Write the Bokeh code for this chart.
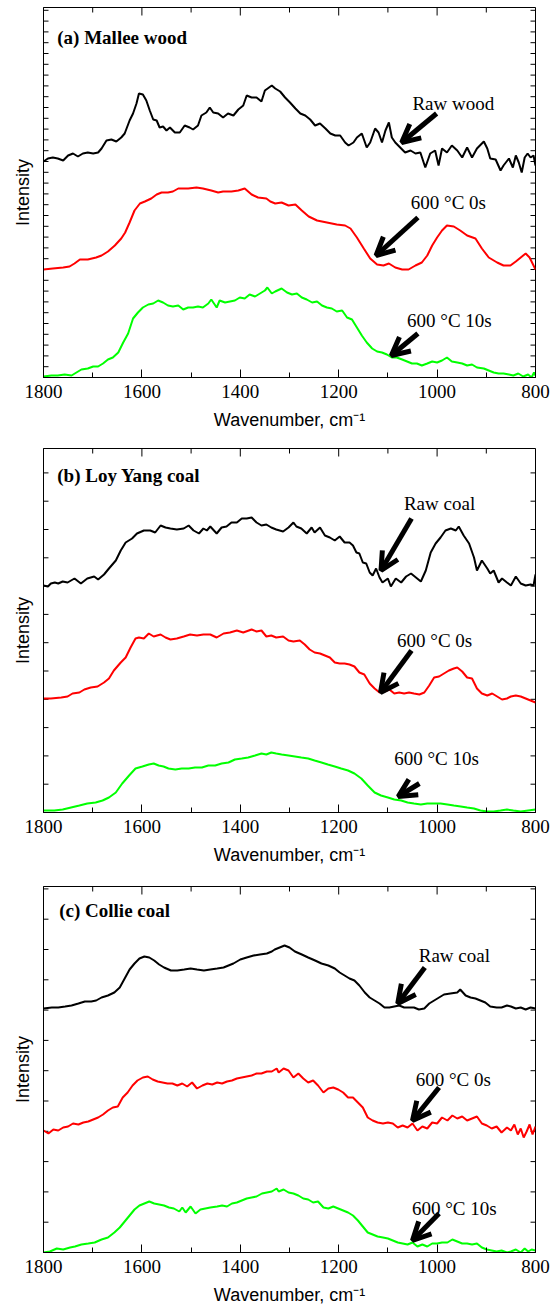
from bokeh.plotting import figure
from bokeh.models import Range1d, SingleIntervalTicker, FixedTicker, Label, Arrow, OpenHead
from bokeh.layouts import column
from bokeh.embed import file_html
from bokeh.resources import INLINE

# ---------------- Raman spectra (wavenumber in cm-1, intensity in a.u., offset for clarity) ----------------
# (a) Mallee wood
mallee_raw_wn = [1800, 1791, 1781, 1771, 1760, 1750, 1740, 1730, 1720, 1710,
                 1699, 1689, 1682, 1672, 1662, 1652, 1642, 1635, 1625, 1618,
                 1611, 1606, 1598, 1591, 1584, 1577, 1570, 1564, 1557, 1550,
                 1543, 1533, 1523, 1513, 1503, 1496, 1486, 1479, 1469, 1462,
                 1455, 1445, 1435, 1425, 1414, 1404, 1394, 1387, 1377, 1367,
                 1357, 1350, 1336, 1329, 1319, 1309, 1299, 1288, 1278, 1268,
                 1258, 1248, 1238, 1227, 1217, 1207, 1197, 1187, 1180, 1170,
                 1163, 1153, 1143, 1136, 1126, 1119, 1112, 1105, 1098, 1092,
                 1085, 1075, 1065, 1054, 1044, 1034, 1024, 1014, 1004, 997,
                 990, 980, 970, 959, 949, 939, 929, 919, 905, 898,
                 892, 881, 871, 865, 854, 846, 840, 834, 828, 822,
                 816, 810, 804, 800]
mallee_raw = [216, 219, 220, 219, 217, 222, 224, 221, 224, 225,
              224, 225, 229, 237, 238, 236, 240, 244, 257, 264,
              274, 284, 283, 277, 267, 258, 257, 250, 251, 247,
              250, 245, 245, 252, 250, 248, 252, 262, 265, 270,
              265, 264, 260, 264, 262, 268, 272, 282, 280, 280,
              276, 287, 292, 289, 286, 280, 275, 269, 264, 262,
              258, 252, 254, 249, 244, 242, 242, 235, 232, 235,
              240, 244, 230, 235, 249, 245, 235, 247, 255, 240,
              235, 230, 225, 227, 224, 225, 210, 224, 227, 212,
              229, 225, 232, 227, 220, 230, 220, 229, 236, 229,
              219, 218, 207, 212, 219, 210, 222, 215, 205, 220,
              224, 220, 222, 212]

mallee_0s_wn = [1800, 1781, 1760, 1747, 1737, 1726, 1710, 1693, 1682, 1669,
                1655, 1642, 1634, 1625, 1615, 1604, 1594, 1581, 1570, 1560,
                1547, 1537, 1526, 1506, 1489, 1476, 1459, 1445, 1435, 1418,
                1404, 1391, 1377, 1364, 1347, 1339, 1329, 1316, 1302, 1288,
                1275, 1261, 1244, 1224, 1204, 1187, 1176, 1163, 1149, 1136,
                1122, 1109, 1098, 1085, 1071, 1058, 1044, 1031, 1020, 1010,
                1000, 990, 980, 966, 953, 939, 922, 909, 895, 878,
                865, 851, 840, 830, 820, 812, 806, 800]
mallee_0s = [108, 109, 110, 111, 114, 118, 118, 120, 122, 126,
             132, 139, 145, 155, 167, 174, 176, 179, 183, 185,
             185, 186, 189, 189, 190, 189, 187, 185, 186, 186,
             187, 189, 183, 180, 179, 176, 174, 175, 172, 173,
             167, 161, 157, 155, 153, 152, 149, 140, 129, 119,
             113, 112, 114, 110, 108, 108, 112, 115, 122, 132,
             140, 147, 152, 151, 147, 142, 139, 129, 120, 115,
             112, 112, 116, 120, 124, 120, 114, 108]

mallee_10s_wn = [1800, 1784, 1771, 1757, 1743, 1733, 1723, 1710, 1699, 1689,
                 1679, 1669, 1659, 1648, 1638, 1628, 1618, 1608, 1598, 1587,
                 1577, 1567, 1557, 1547, 1537, 1526, 1516, 1506, 1496, 1486,
                 1476, 1465, 1459, 1448, 1442, 1431, 1421, 1411, 1401, 1391,
                 1381, 1370, 1360, 1350, 1345, 1336, 1329, 1316, 1305, 1295,
                 1285, 1275, 1265, 1254, 1244, 1234, 1224, 1214, 1204, 1193,
                 1183, 1173, 1163, 1153, 1143, 1132, 1122, 1112, 1102, 1092,
                 1082, 1071, 1061, 1051, 1041, 1031, 1020, 1010, 1000, 990,
                 980, 970, 959, 949, 939, 929, 919, 905, 895, 885,
                 875, 865, 854, 845, 835, 825, 815, 808, 803, 800]
mallee_10s = [1, 2, 2, 3, 2, 5, 8, 9, 11, 11,
              14, 18, 20, 25, 35, 44, 59, 65, 70, 73,
              74, 77, 75, 72, 71, 72, 68, 70, 70, 71,
              70, 74, 78, 70, 77, 75, 76, 77, 80, 79,
              83, 81, 84, 87, 90, 84, 86, 89, 85, 83,
              84, 80, 78, 75, 76, 72, 70, 69, 66, 67,
              60, 58, 50, 42, 35, 29, 26, 25, 23, 20,
              20, 18, 16, 14, 14, 12, 14, 16, 15, 17,
              20, 16, 15, 14, 12, 13, 10, 9, 7, 5,
              4, 4, 3, 2, 4, 1, 3, 0, 5, 2]

# (b) Loy Yang coal
loy_raw_wn = [1800, 1791, 1785, 1777, 1770, 1761, 1751, 1737, 1724, 1711,
              1697, 1689, 1677, 1667, 1653, 1643, 1633, 1620, 1610, 1596,
              1583, 1573, 1562, 1552, 1542, 1529, 1515, 1505, 1495, 1484,
              1475, 1468, 1461, 1448, 1438, 1428, 1418, 1407, 1397, 1387,
              1377, 1367, 1357, 1347, 1337, 1327, 1313, 1302, 1292, 1286,
              1276, 1265, 1255, 1249, 1238, 1228, 1218, 1208, 1198, 1188,
              1178, 1171, 1164, 1158, 1151, 1144, 1137, 1131, 1124, 1117,
              1111, 1100, 1094, 1084, 1073, 1063, 1053, 1043, 1033, 1023,
              1013, 1003, 993, 983, 972, 962, 956, 946, 935, 925,
              919, 909, 898, 892, 885, 875, 868, 858, 850, 840,
              830, 820, 810, 804, 800]
loy_raw = [227, 226, 229, 230, 229, 231, 230, 234, 229, 234,
           236, 233, 238, 244, 252, 262, 270, 274, 279, 282,
           282, 280, 287, 285, 284, 283, 284, 287, 282, 279,
           284, 282, 286, 279, 285, 286, 290, 290, 294, 294,
           295, 290, 287, 288, 285, 283, 281, 285, 290, 286,
           284, 279, 285, 280, 285, 277, 275, 272, 276, 270,
           270, 267, 260, 259, 250, 249, 240, 237, 244, 235,
           230, 234, 226, 234, 230, 236, 239, 235, 231, 242,
           260, 269, 275, 282, 284, 282, 286, 277, 269, 255,
           242, 252, 244, 239, 242, 230, 234, 230, 227, 236,
           229, 227, 228, 227, 238]

loy_0s_wn = [1800, 1785, 1764, 1751, 1741, 1727, 1717, 1704, 1690, 1677,
             1667, 1657, 1643, 1633, 1623, 1613, 1606, 1596, 1586, 1576,
             1562, 1552, 1542, 1529, 1515, 1502, 1488, 1475, 1461, 1448,
             1434, 1421, 1407, 1394, 1377, 1367, 1357, 1347, 1337, 1327,
             1313, 1302, 1292, 1279, 1269, 1259, 1249, 1238, 1228, 1218,
             1208, 1198, 1188, 1178, 1168, 1158, 1148, 1137, 1127, 1117,
             1107, 1097, 1087, 1077, 1067, 1057, 1047, 1036, 1026, 1016,
             1006, 996, 986, 976, 966, 959, 949, 939, 929, 919,
             909, 898, 888, 878, 868, 858, 850, 840, 830, 820,
             810, 800]
loy_0s = [114, 114, 115, 116, 119, 120, 123, 125, 126, 130,
          134, 142, 150, 155, 165, 174, 175, 174, 179, 176,
          178, 175, 173, 174, 176, 178, 177, 178, 178, 175,
          179, 180, 182, 180, 183, 181, 182, 176, 177, 175,
          176, 172, 171, 172, 168, 163, 160, 159, 157, 155,
          150, 149, 149, 148, 146, 140, 138, 129, 124, 120,
          121, 123, 119, 120, 119, 120, 119, 118, 120, 127,
          135, 136, 139, 142, 144, 145, 141, 135, 134, 124,
          119, 117, 119, 116, 113, 114, 116, 117, 116, 114,
          112, 110]

loy_10s_wn = [1800, 1778, 1761, 1744, 1727, 1711, 1694, 1680, 1667, 1653,
              1640, 1626, 1613, 1599, 1586, 1576, 1566, 1556, 1546, 1532,
              1519, 1505, 1492, 1478, 1465, 1451, 1438, 1424, 1411, 1397,
              1384, 1370, 1357, 1347, 1337, 1327, 1316, 1302, 1289, 1276,
              1262, 1249, 1235, 1222, 1208, 1195, 1181, 1168, 1154, 1141,
              1127, 1114, 1100, 1087, 1073, 1060, 1047, 1033, 1020, 1006,
              993, 979, 966, 952, 939, 925, 912, 898, 885, 871,
              858, 845, 830, 815, 800]
loy_10s = [2, 2, 3, 5, 7, 9, 10, 12, 15, 20,
           29, 37, 44, 46, 48, 49, 47, 46, 44, 43,
           44, 44, 45, 45, 47, 47, 49, 50, 53, 54,
           55, 57, 59, 58, 60, 59, 58, 57, 56, 55,
           54, 52, 50, 48, 46, 44, 42, 39, 34, 27,
           20, 17, 15, 13, 12, 10, 9, 8, 9, 9,
           9, 8, 7, 6, 5, 4, 2, 1, 1, 2,
           3, 2, 1, 2, 3]

# (c) Collie coal
collie_raw_wn = [1800, 1783, 1770, 1756, 1743, 1729, 1716, 1703, 1693, 1682,
                 1669, 1656, 1645, 1635, 1625, 1615, 1605, 1595, 1585, 1575,
                 1565, 1555, 1541, 1528, 1514, 1501, 1488, 1474, 1461, 1447,
                 1434, 1424, 1414, 1400, 1387, 1373, 1360, 1346, 1336, 1330,
                 1320, 1310, 1300, 1289, 1275, 1262, 1248, 1235, 1221, 1208,
                 1198, 1188, 1178, 1168, 1158, 1147, 1137, 1127, 1117, 1107,
                 1097, 1087, 1077, 1067, 1057, 1047, 1037, 1026, 1016, 1006,
                 996, 986, 973, 959, 953, 942, 932, 922, 912, 902,
                 892, 879, 869, 858, 850, 840, 830, 820, 810, 800]
collie_raw = [244, 245, 245, 246, 247, 249, 251, 251, 252, 255,
              257, 260, 265, 274, 283, 289, 294, 296, 295, 292,
              288, 285, 282, 282, 283, 284, 283, 282, 283, 284,
              285, 287, 289, 293, 295, 297, 298, 299, 301, 303,
              305, 307, 305, 301, 298, 295, 292, 289, 287, 284,
              280, 277, 274, 272, 267, 260, 255, 252, 249, 245,
              245, 246, 247, 245, 245, 245, 243, 244, 249, 252,
              255, 258, 259, 260, 263, 257, 255, 254, 252, 250,
              246, 245, 245, 247, 246, 244, 245, 243, 245, 244]

collie_0s_wn = [1800, 1790, 1780, 1770, 1760, 1750, 1740, 1729, 1719, 1709,
                1699, 1689, 1679, 1669, 1659, 1649, 1639, 1629, 1619, 1609,
                1598, 1588, 1578, 1568, 1558, 1548, 1538, 1528, 1518, 1508,
                1498, 1488, 1477, 1467, 1457, 1447, 1437, 1427, 1417, 1407,
                1397, 1387, 1377, 1367, 1357, 1346, 1336, 1326, 1322, 1312,
                1302, 1292, 1282, 1272, 1262, 1252, 1242, 1231, 1221, 1211,
                1201, 1191, 1181, 1171, 1161, 1151, 1141, 1131, 1121, 1110,
                1100, 1090, 1080, 1070, 1060, 1050, 1040, 1030, 1020, 1010,
                1000, 990, 979, 969, 959, 949, 939, 929, 919, 909,
                899, 889, 879, 869, 858, 850, 843, 836, 830, 824,
                818, 812, 806, 800]
collie_0s = [122, 119, 123, 122, 125, 126, 129, 128, 130, 131,
             133, 135, 138, 142, 145, 146, 155, 160, 167, 172,
             175, 176, 173, 171, 170, 169, 169, 167, 169, 166,
             170, 164, 167, 169, 168, 170, 169, 171, 172, 174,
             175, 176, 177, 179, 179, 181, 181, 184, 180, 184,
             182, 175, 179, 174, 170, 172, 167, 160, 164, 165,
             163, 160, 155, 155, 150, 145, 135, 132, 130, 129,
             130, 129, 125, 127, 125, 129, 122, 126, 124, 130,
             129, 135, 132, 137, 134, 136, 132, 134, 136, 129,
             127, 124, 126, 120, 125, 122, 128, 118, 124, 115,
             121, 128, 118, 126]

collie_10s_wn = [1800, 1787, 1773, 1760, 1746, 1736, 1723, 1709, 1696, 1682,
                 1669, 1656, 1645, 1635, 1625, 1615, 1605, 1595, 1585, 1575,
                 1565, 1555, 1545, 1535, 1524, 1518, 1511, 1501, 1491, 1481,
                 1471, 1461, 1447, 1437, 1427, 1417, 1407, 1397, 1387, 1377,
                 1367, 1356, 1346, 1336, 1326, 1322, 1312, 1302, 1292, 1282,
                 1272, 1262, 1252, 1242, 1231, 1221, 1211, 1201, 1191, 1181,
                 1171, 1161, 1151, 1141, 1131, 1121, 1110, 1100, 1090, 1080,
                 1070, 1060, 1050, 1040, 1030, 1020, 1010, 1000, 990, 979,
                 969, 959, 949, 939, 929, 919, 909, 899, 889, 879,
                 869, 858, 850, 840, 830, 822, 815, 808, 800]
collie_10s = [0, 1, 4, 3, 5, 6, 8, 9, 10, 13,
              15, 20, 25, 31, 37, 43, 47, 49, 51, 49,
              48, 47, 45, 44, 41, 45, 40, 46, 39, 43,
              44, 45, 46, 47, 46, 49, 50, 52, 54, 55,
              56, 59, 60, 61, 64, 61, 63, 60, 59, 57,
              54, 53, 50, 51, 45, 44, 46, 44, 42, 40,
              37, 32, 26, 20, 18, 16, 15, 14, 12, 10,
              9, 8, 10, 6, 8, 6, 9, 9, 10, 10,
              13, 11, 9, 9, 8, 9, 5, 3, 2, 1,
              2, 0, 1, 3, 0, 4, 1, 3, 2]

# x-axis ticks (cm-1)
X_MAJOR = [1800, 1600, 1400, 1200, 1000, 800]
X_MINOR = [1700, 1500, 1300, 1100, 900]

COLORS = ["#000000", "#ff0000", "#00ff00"]
SERIF = "Liberation Serif"
SANS = "Liberation Sans"
WIDTH = 555
LEFT = 43
X_LO, X_HI = 1800, 800


def panel(title, title_pos, y_max, y_step, height, top, bottom, right,
          series, notes, arrows):
    p = figure(width=WIDTH, height=height, title=None,
               x_range=Range1d(X_LO, X_HI), y_range=Range1d(0, y_max),
               output_backend="svg", toolbar_location=None,
               min_border_left=LEFT, min_border_right=right,
               min_border_top=top, min_border_bottom=bottom)
    p.background_fill_color = "white"
    p.border_fill_color = "white"
    p.outline_line_color = "black"
    p.outline_line_width = 1
    p.xgrid.visible = False
    p.ygrid.visible = False

    # bottom axis: labelled, ticks pointing inward
    xa = p.xaxis[0]
    xa.ticker = SingleIntervalTicker(interval=200, num_minor_ticks=2)
    xa.major_tick_in = 8
    xa.major_tick_out = 0
    xa.minor_tick_in = 5
    xa.minor_tick_out = 0
    xa.axis_line_color = "black"
    xa.major_tick_line_color = "black"
    xa.minor_tick_line_color = "black"
    xa.major_label_text_font = SERIF
    xa.major_label_text_font_size = "19px"
    xa.major_label_text_color = "black"
    xa.major_label_standoff = 7
    xa.axis_label = "Wavenumber, cm\u207b\u00b9"
    xa.axis_label_text_font = SANS
    xa.axis_label_text_font_style = "normal"
    xa.axis_label_text_font_size = "18px"
    xa.axis_label_text_color = "black"
    xa.axis_label_standoff = 9

    # left axis: title only, intensity is in arbitrary units
    ya = p.yaxis[0]
    ya.ticker = FixedTicker(ticks=[])
    ya.major_label_standoff = 0
    ya.axis_line_color = "black"
    ya.axis_label = "Intensity"
    ya.axis_label_text_font = SANS
    ya.axis_label_text_font_style = "normal"
    ya.axis_label_text_font_size = "18px"
    ya.axis_label_text_color = "black"
    ya.axis_label_standoff = 11

    # inward tick marks on the frame: top edge and both vertical edges
    frame_w = WIDTH - LEFT - right
    frame_h = height - top - bottom
    dx = (X_LO - X_HI) / frame_w          # cm-1 per pixel
    dy = y_max / frame_h                   # a.u. per pixel
    p.segment(x0=X_MAJOR, y0=[y_max] * len(X_MAJOR),
              x1=X_MAJOR, y1=[y_max - 8 * dy] * len(X_MAJOR),
              line_color="black", line_width=1)
    p.segment(x0=X_MINOR, y0=[y_max] * len(X_MINOR),
              x1=X_MINOR, y1=[y_max - 5 * dy] * len(X_MINOR),
              line_color="black", line_width=1)
    yt = []
    k = 1
    while k * y_step < y_max - 1:
        yt.append(k * y_step)
        k += 1
    n = len(yt)
    p.segment(x0=[X_LO] * n, y0=yt, x1=[X_LO - 5 * dx] * n, y1=yt,
              line_color="black", line_width=1)
    p.segment(x0=[X_HI] * n, y0=yt, x1=[X_HI + 5 * dx] * n, y1=yt,
              line_color="black", line_width=1)

    for (xs, ys), color in zip(series, COLORS):
        p.line(xs, ys, line_color=color, line_width=2)

    p.add_layout(Label(x=title_pos[0], y=title_pos[1], text=title,
                       text_font=SERIF, text_font_style="bold",
                       text_font_size="19px", text_color="black",
                       text_align="left", text_baseline="middle"))
    for text, x, y in notes:
        p.add_layout(Label(x=x, y=y, text=text, text_font=SERIF,
                           text_font_size="19px", text_color="black",
                           text_align="center", text_baseline="middle"))
    for x0, y0, x1, y1 in arrows:
        p.add_layout(Arrow(x_start=x0, y_start=y0, x_end=x1, y_end=y1,
                           line_width=5, line_color="black",
                           end=OpenHead(size=18, line_width=5, line_color="black")))
    return p


pa = panel("(a) Mallee wood", (1772, 340), 370, 10.8, 440, 7, 63, 20,
           [(mallee_raw_wn, mallee_raw), (mallee_0s_wn, mallee_0s), (mallee_10s_wn, mallee_10s)],
           [("Raw wood", 967, 274), ("600 \u00b0C 0s", 977, 175), ("600 \u00b0C 10s", 975, 57)],
           [(1001, 264, 1072, 235), (1039, 160, 1124, 122), (1039, 44, 1093, 22)])

pb = panel("(b) Loy Yang coal", (1772, 337), 364, 28.3, 440, 8, 68, 17,
           [(loy_raw_wn, loy_raw), (loy_0s_wn, loy_0s), (loy_10s_wn, loy_10s)],
           [("Raw coal", 995, 309), ("600 \u00b0C 0s", 1005, 172), ("600 \u00b0C 10s", 1001, 54)],
           [(1052, 294, 1114, 242), (1052, 162, 1115, 120), (1036, 29, 1079, 16)])

pc = panel("(c) Collie coal", (1768, 342), 366, 30.3, 434, 6, 62, 16,
           [(collie_raw_wn, collie_raw), (collie_0s_wn, collie_0s), (collie_10s_wn, collie_10s)],
           [("Raw coal", 965, 297), ("600 \u00b0C 0s", 967, 173), ("600 \u00b0C 10s", 965, 44)],
           [(1025, 285, 1080, 249), (996, 165, 1050, 132), (996, 39, 1050, 12)])

layout = column(pa, pb, pc, spacing=0)
open("out.html", "w").write(file_html(layout, INLINE))
